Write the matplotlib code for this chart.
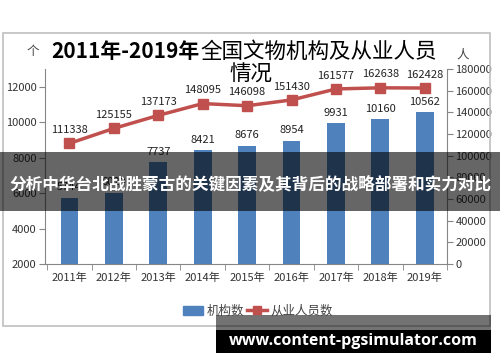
#2011-2019 cultural relic institutions and staff, bars + line on twin axis
import matplotlib
matplotlib.use('Agg')
import matplotlib.pyplot as plt
from matplotlib.patches import Rectangle
from matplotlib.lines import Line2D
import numpy as np

plt.rcParams['font.family'] = ['Noto Sans CJK SC', 'DejaVu Sans']

years = ['2011年', '2012年', '2013年', '2014年', '2015年', '2016年', '2017年', '2018年', '2019年']
institutions = [5744, 6020, 7737, 8421, 8676, 8954, 9931, 10160, 10562]
staff = [111338, 125155, 137173, 148095, 146098, 151430, 161577, 162638, 162428]

W, H = 500, 362
bar_color = '#4f81bd'
line_color = '#c0504d'
axis_color = '#868686'

fig = plt.figure(figsize=(W / 100, H / 100), dpi=100)
fig.patch.set_facecolor('white')

def fx(px):
    return px / W

def fy(py):
    return 1 - py / H

ax = fig.add_axes([fx(45), fy(264), fx(447 - 45), (264 - 69) / H])
x = np.arange(len(years))

ax.bar(x, institutions, width=0.4, color=bar_color, zorder=2)
for xi, v in zip(x, institutions):
    ax.annotate(str(v), (xi, v), xytext=(0, 4), textcoords='offset points',
                ha='center', va='bottom', fontsize=8, color='#222222')

ax.set_xlim(-0.55, 8.5)
ax.set_ylim(2000, 13000)
ax.set_yticks(np.arange(2000, 12001, 2000))
ax.set_xticks(x)
ax.set_xticklabels(years, fontsize=8, color='#333333')
ax.set_xticks(np.arange(-0.5, 9, 1), minor=True)
ax.tick_params(axis='x', which='major', length=0, pad=6)
ax.tick_params(axis='x', which='minor', length=4, color=axis_color)
ax.tick_params(axis='y', labelsize=8, length=4, color=axis_color, labelcolor='#333333', pad=2)
for s in ['top', 'right']:
    ax.spines[s].set_visible(False)
for s in ['left', 'bottom']:
    ax.spines[s].set_color(axis_color)

ax2 = ax.twinx()
ax2.plot(x, staff, color=line_color, lw=2.5, marker='s', ms=7, zorder=3)
for xi, v in zip(x, staff):
    ax2.annotate(str(v), (xi, v), xytext=(0, 6), textcoords='offset points',
                 ha='center', va='bottom', fontsize=8, color='#222222')
ax2.set_ylim(0, 180000)
ax2.set_yticks(np.arange(0, 180001, 20000))
ax2.tick_params(axis='y', labelsize=8, length=4, color=axis_color, labelcolor='#333333', pad=2)
for s in ['top', 'left', 'bottom']:
    ax2.spines[s].set_visible(False)
ax2.spines['right'].set_color(axis_color)

#units
fig.text(fx(33), fy(51), '个', fontsize=9, color='#444444', ha='center', va='center')
fig.text(fx(463), fy(55), '人', fontsize=9, color='#444444', ha='center', va='center')

#title, bold year part and regular rest
fig.text(fx(200), fy(52), '2011年-2019年', fontsize=15, fontweight='bold', ha='right', va='center')
fig.text(fx(200), fy(52), '全国文物机构及从业人员', fontsize=15.5, ha='left', va='center')
fig.text(fx(251), fy(75), '情况', fontsize=15.5, ha='center', va='center')

#legend
handles = [Rectangle((0, 0), 1, 1, color=bar_color),
           Line2D([], [], color=line_color, lw=2.5, marker='s', ms=6)]
fig.legend(handles, ['机构数', '从业人员数'], loc='center', bbox_to_anchor=(fx(258), fy(311)),
           ncol=2, frameon=False, fontsize=9, handlelength=1.6, handletextpad=0.3,
           columnspacing=0.2, labelcolor='#444444')

#chart border
fig.patches.append(Rectangle((fx(3), fy(326)), fx(490 - 3), (326 - 33) / H, fill=False,
                             edgecolor='#bfbfbf', lw=1.2, transform=fig.transFigure, zorder=1))

#overlay banner
fig.patches.append(Rectangle((0, fy(211)), 1, (211 - 152) / H, facecolor='black', alpha=0.6,
                             transform=fig.transFigure, zorder=5))
fig.text(0.5, fy(184), '分析中华台北战胜蒙古的关键因素及其背后的战略部署和实力对比',
         fontsize=12, fontweight='bold', color='white', ha='center', va='center', zorder=6)

#watermark
fig.patches.append(Rectangle((fx(216), fy(330)), fx(491 - 216), (330 - 315) / H, facecolor='black',
                             alpha=0.55, transform=fig.transFigure, zorder=5))
fig.patches.append(Rectangle((fx(216), fy(353)), fx(491 - 216), (353 - 330) / H, facecolor='black',
                             transform=fig.transFigure, zorder=5))
fig.text(fx(353), fy(341), 'www.content-pgsimulator.com', fontsize=11.5, fontweight='bold',
         color='white', ha='center', va='center', family=['Open Sans', 'DejaVu Sans'], zorder=6)

fig.savefig('out.png', dpi=100)
